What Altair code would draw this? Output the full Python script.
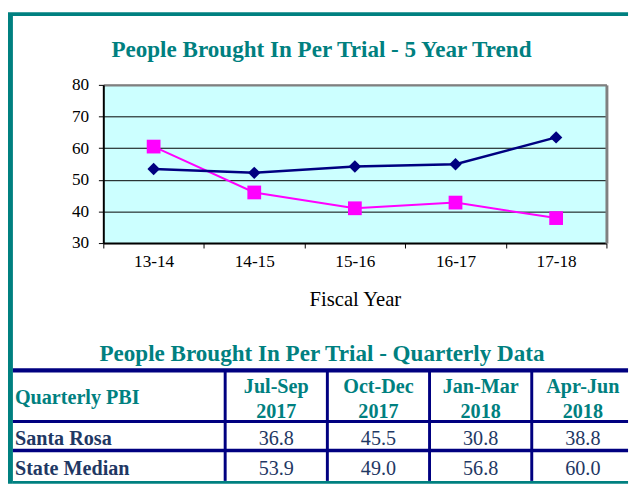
import altair as alt
import pandas as pd

# ---------------- data ----------------
years = ["13-14", "14-15", "15-16", "16-17", "17-18"]
state_median_trend = [53.4, 52.2, 54.2, 54.9, 63.4]
santa_rosa_trend = [60.5, 46.0, 41.0, 42.8, 37.9]

quarters = ["Jul-Sep", "Oct-Dec", "Jan-Mar", "Apr-Jun"]
quarter_years = ["2017", "2017", "2018", "2018"]
row_labels = ["Santa Rosa", "State Median"]
santa_rosa_q = [36.8, 45.5, 30.8, 38.8]
state_median_q = [53.9, 49.0, 56.8, 60.0]

chart_title = "People Brought In Per Trial - 5 Year Trend"
table_title = "People Brought In Per Trial - Quarterly Data"
corner_label = "Quarterly PBI"
x_title = "Fiscal Year"
y_ticks = [30, 40, 50, 60, 70, 80]

# ---------------- style ----------------
TEAL = "#008080"
NAVY = "#000080"
MAGENTA = "#FF00FF"
PLOT_BG = "#CCFFFF"
BORDER_GRAY = "#808080"
TEXT_NAVY = "#1F3864"
FONT = "Liberation Serif"

# ---------------- layout (px) ----------------
TOTAL_W = 631
FRAME_TOP, FRAME_LEFT = 4, 5
INNER_H = 476
PLOT_W, PLOT_H = 512, 161
PLOT_TOP_GAP, PLOT_LEFT_GAP = 70, 92
MID_GAP = 127
TABLE_VIEW_W, TABLE_H = 534, 115

COL_UNIT, ROW_UNIT = 104.0, 30.0
col_widths = [216 / COL_UNIT, 1, 1, 1, 1]
row_heights = [52 / ROW_UNIT, 29.5 / ROW_UNIT, 31 / ROW_UNIT]
top_offset = 2.5 / ROW_UNIT
x_lo = PLOT_LEFT_GAP / COL_UNIT           # table view starts under the plot
x_hi = x_lo + TABLE_VIEW_W / COL_UNIT
y_dom = TABLE_H / ROW_UNIT

x_edges = [0.0]
for w in col_widths:
    x_edges.append(x_edges[-1] + w)
y_edges = [top_offset]
for h in row_heights:
    y_edges.append(y_edges[-1] + h)
col_centers = [(x_edges[i] + x_edges[i + 1]) / 2 for i in range(len(col_widths))]
row_centers = [(y_edges[i] + y_edges[i + 1]) / 2 for i in range(len(row_heights))]


def blank(w, h, fill=None):
    c = alt.Chart(pd.DataFrame({"v": [0]})).mark_rect(opacity=0)
    vb = alt.ViewBackground(fill=fill, strokeWidth=0) if fill else alt.ViewBackground(strokeWidth=0)
    return c.properties(width=w, height=h, view=vb)


# ---------------- line chart ----------------
trend = pd.DataFrame({
    "year": years * 2,
    "value": state_median_trend + santa_rosa_trend,
    "series": ["State Median"] * len(years) + ["Santa Rosa"] * len(years),
})

xscale = alt.Scale(type="band", domain=years, paddingInner=0, paddingOuter=0)
yscale = alt.Scale(domain=[30, 80], nice=False, zero=False)

navy_layer = alt.Chart(trend).transform_filter(alt.datum.series == "State Median").mark_line(
    color=NAVY, strokeWidth=2.5,
    point=alt.OverlayMarkDef(shape="diamond", size=160, filled=True, color=NAVY, opacity=1),
).encode(
    x=alt.X("year:N", sort=years, scale=xscale, axis=alt.Axis(
        orient="bottom", title=x_title, labelAngle=0, tickBand="extent", grid=False,
        domainColor="black", domainWidth=2, tickColor="black", tickSize=5, tickWidth=1,
        labelFont=FONT, labelFontSize=17.5, labelColor="black", labelPadding=5,
        titleFont=FONT, titleFontSize=21, titleFontWeight="normal", titleColor="black",
        titlePadding=19,
    )),
    y=alt.Y("value:Q", scale=yscale, axis=alt.Axis(
        orient="left", values=y_ticks, title=None, grid=True, gridColor="black", gridWidth=1,
        gridOpacity=1, domainColor="black", domainWidth=2, tickColor="black", tickSize=5,
        labelFont=FONT, labelFontSize=17.5, labelColor="black", labelPadding=10,
    )),
)

magenta_layer = alt.Chart(trend).transform_filter(alt.datum.series == "Santa Rosa").mark_line(
    color=MAGENTA, strokeWidth=2,
    point=alt.OverlayMarkDef(shape="square", size=196, filled=True, color=MAGENTA, opacity=1),
).encode(
    x=alt.X("year:N", sort=years, scale=xscale, axis=alt.Axis(
        orient="top", labels=False, ticks=False, title=None, grid=False,
        domainColor=BORDER_GRAY, domainWidth=2.5,
    )),
    y=alt.Y("value:Q", scale=yscale, axis=alt.Axis(
        orient="right", labels=False, ticks=False, title=None, grid=False,
        domainColor=BORDER_GRAY, domainWidth=3,
    )),
)

line_chart = alt.layer(magenta_layer, navy_layer).resolve_axis(
    x="independent", y="independent"
).properties(
    width=PLOT_W, height=PLOT_H,
    view=alt.ViewBackground(fill=PLOT_BG, strokeWidth=0),
    title=alt.TitleParams(
        text=chart_title, font=FONT, fontSize=23.5, fontWeight="bold", color=TEAL,
        anchor="middle", frame="group", dx=-34, dy=4, offset=0, baseline="alphabetic",
    ),
)

# ---------------- table ----------------
xs = alt.Scale(domain=[x_lo, x_hi], nice=False, zero=False)
ys = alt.Scale(domain=[0, y_dom], nice=False, zero=False, reverse=True)

hlines = pd.DataFrame({
    "x0": [0.0] * 3, "x1": [x_hi] * 3, "y": y_edges[:3], "w": [4.5, 3, 3.5],
})
bottom_line = pd.DataFrame({"x0": [0.0], "x1": [x_hi], "y": [y_dom + 1.5 / ROW_UNIT]})
vlines = pd.DataFrame({
    "x": x_edges[1:len(col_widths)], "y0": [y_edges[0]] * (len(col_widths) - 1),
    "y1": [y_dom] * (len(col_widths) - 1),
})
header_df = pd.DataFrame({
    "x": col_centers[1:], "y": [row_centers[0]] * len(quarters),
    "text": [q + "\n" + yv for q, yv in zip(quarters, quarter_years)],
})
corner_df = pd.DataFrame({"x": [0.02], "y": [row_centers[0]], "text": [corner_label]})
rowlab_df = pd.DataFrame({"x": [0.02] * 2, "y": row_centers[1:], "text": row_labels})
values_df = pd.DataFrame({
    "x": col_centers[1:] * 2,
    "y": [row_centers[1]] * 4 + [row_centers[2]] * 4,
    "value": santa_rosa_q + state_median_q,
})

X = lambda f: alt.X(f, scale=xs, axis=None)
Y = lambda f: alt.Y(f, scale=ys, axis=None)

hl = alt.Chart(hlines).mark_rule(color=NAVY).encode(
    x=X("x0:Q"), x2="x1:Q", y=Y("y:Q"), strokeWidth=alt.StrokeWidth("w:Q", scale=None),
)
bl = alt.Chart(bottom_line).mark_rule(color=TEAL, strokeWidth=3).encode(
    x=X("x0:Q"), x2="x1:Q", y=Y("y:Q"),
)
vl = alt.Chart(vlines).mark_rule(color=NAVY, strokeWidth=3).encode(
    x=X("x:Q"), y=Y("y0:Q"), y2="y1:Q",
)
hdr = alt.Chart(header_df).mark_text(
    font=FONT, fontSize=20.5, fontWeight="bold", color=TEAL, align="center",
    baseline="middle", lineBreak="\n", lineHeight=26, dy=-9,
).encode(x=X("x:Q"), y=Y("y:Q"), text="text:N")
corner = alt.Chart(corner_df).mark_text(
    font=FONT, fontSize=20.5, fontWeight="bold", color=TEAL, align="left", baseline="middle", dy=2,
).encode(x=X("x:Q"), y=Y("y:Q"), text="text:N")
rowlab = alt.Chart(rowlab_df).mark_text(
    font=FONT, fontSize=20.5, fontWeight="bold", color=TEXT_NAVY, align="left", baseline="middle", dy=3,
).encode(x=X("x:Q"), y=Y("y:Q"), text="text:N")
vals = alt.Chart(values_df).mark_text(
    font=FONT, fontSize=20.5, color=TEXT_NAVY, align="center", baseline="middle", dy=3,
).encode(x=X("x:Q"), y=Y("y:Q"), text=alt.Text("value:Q", format=".1f"))

table = alt.layer(hl, vl, bl, hdr, corner, rowlab, vals).properties(
    width=TABLE_VIEW_W, height=TABLE_H,
    view=alt.ViewBackground(strokeWidth=0),
    title=alt.TitleParams(
        text=table_title, font=FONT, fontSize=23.5, fontWeight="bold", color=TEAL,
        anchor="middle", frame="group", dx=-44.5, dy=16, offset=0, baseline="alphabetic",
    ),
)

# ---------------- composition ----------------
content = alt.vconcat(
    blank(PLOT_W, PLOT_TOP_GAP),
    line_chart,
    blank(PLOT_W, MID_GAP),
    table,
    spacing=0, bounds="flush",
)
middle = alt.hconcat(
    blank(FRAME_LEFT, INNER_H, TEAL), blank(PLOT_LEFT_GAP, PLOT_H), content,
    spacing=0, bounds="flush",
)
chart = alt.vconcat(
    blank(TOTAL_W, FRAME_TOP, TEAL),
    middle,
    spacing=0, bounds="flush",
).properties(padding=0, background="white").configure_view(strokeWidth=0)

chart.save("out.html", embed_options={"renderer": "svg", "actions": False})
